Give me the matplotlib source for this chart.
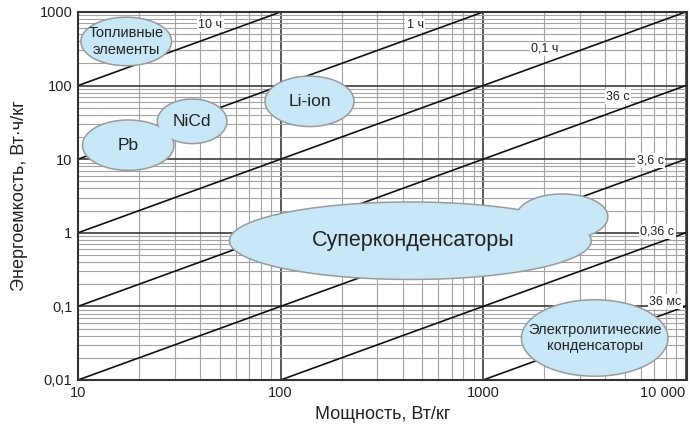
import numpy as np
import matplotlib
matplotlib.use("Agg")
import matplotlib.pyplot as plt
from matplotlib.ticker import FixedLocator, LogLocator, NullFormatter, FixedFormatter

plt.rcParams['font.family'] = ['Liberation Sans', 'DejaVu Sans']

# discharge-time lines: E = P * t (t in hours)
line_hours = [10, 1, 0.1, 0.01, 0.001, 0.0001, 0.00001]
line_labels = ["10 ч", "1 ч", "0,1 ч", "36 с", "3,6 с", "0,36 с", "36 мс"]
label_x = [45, 461, 2022, 4640, 6685, 7230, 7925]
label_y = [667, 667, 315, 70.3, 9.5, 1.03, 0.116]

# technology regions (center in W/kg, Wh/kg; half-sizes in decades)
region_names = ["Топливные\nэлементы", "Pb", "NiCd", "Li-ion", "", "", "Электролитические\nконденсаторы"]
region_cx = [17.3, 17.7, 36.6, 139, 437, 2455, 3556]
region_cy = [398, 15.5, 32.7, 61.1, 0.78, 1.65, 0.0372]
region_ax = [0.220, 0.222, 0.168, 0.216, 0.889, 0.222, 0.358]
region_by = [0.319, 0.332, 0.292, 0.332, 0.516, 0.30, 0.509]
region_fs = [10.5, 12.5, 12.5, 12.5, 15, 15, 10.5]
super_label = "Суперконденсаторы"
super_pos = (450, 0.78)

x_ticks = [10, 100, 1000, 10000]
x_ticklabels = ["10", "100", "1000", "10 000"]
y_ticks = [0.01, 0.1, 1, 10, 100, 1000]
y_ticklabels = ["0,01", "0,1", "1", "10", "100", "1000"]

fig = plt.figure(figsize=(6.91, 4.24), dpi=100)
ax = fig.add_axes([0.1129, 0.1038, 0.8813, 0.8679])
ax.set_xscale('log')
ax.set_yscale('log')
xmin, xmax = 10, 10150
ax.set_xlim(xmin, xmax)
ax.set_ylim(0.01, 1000)

ax.xaxis.set_major_locator(FixedLocator(x_ticks))
ax.xaxis.set_major_formatter(FixedFormatter(x_ticklabels))
ax.yaxis.set_major_locator(FixedLocator(y_ticks))
ax.yaxis.set_major_formatter(FixedFormatter(y_ticklabels))
ax.xaxis.set_minor_locator(LogLocator(base=10, subs=np.arange(2, 10), numticks=20))
ax.yaxis.set_minor_locator(LogLocator(base=10, subs=np.arange(2, 10), numticks=20))
ax.xaxis.set_minor_formatter(NullFormatter())
ax.yaxis.set_minor_formatter(NullFormatter())
ax.tick_params(which='both', length=0, labelsize=10.5, colors='#222222', pad=4)

ax.grid(which='minor', color='#a3a3a3', lw=0.8, zorder=0)
ax.grid(which='major', color='#3c3c3c', lw=1.2, zorder=0)
ax.set_axisbelow(True)
for s in ax.spines.values():
    s.set_color('#333333')
    s.set_linewidth(1.5)

# diagonal lines
P = np.array([xmin, xmax])
for h in line_hours:
    ax.plot(P, P * h, color='#111111', lw=1.2, zorder=2)
for lab, lx, ly in zip(line_labels, label_x, label_y):
    ax.text(lx, ly, lab, fontsize=9, ha='center', va='center', color='#222222', zorder=2.5,
            bbox=dict(facecolor='white', edgecolor='none', pad=1.0))

fill_c = '#c8e8f8'
edge_c = '#9a9a9a'
t = np.linspace(0, 2 * np.pi, 400)
polys = []
for cx, cy, a, b in zip(region_cx, region_cy, region_ax, region_by):
    xs = 10 ** (np.log10(cx) + a * np.cos(t))
    ys = 10 ** (np.log10(cy) + b * np.sin(t))
    polys.append((xs, ys))
# edges first (thick), then fills on top so overlapping blobs merge
for xs, ys in polys:
    ax.fill(xs, ys, facecolor='none', edgecolor=edge_c, lw=2.2, zorder=3)
for xs, ys in polys:
    ax.fill(xs, ys, facecolor=fill_c, edgecolor='none', lw=0, zorder=4)

for name, cx, cy, fs in zip(region_names, region_cx, region_cy, region_fs):
    if name:
        ax.text(cx, cy, name, fontsize=fs, ha='center', va='center', color='#222222',
                zorder=5, linespacing=1.25)
ax.text(super_pos[0], super_pos[1], super_label, fontsize=15.5, ha='center', va='center',
        color='#222222', zorder=5)

ax.set_xlabel("Мощность, Вт/кг", fontsize=13, color='#222222', labelpad=5)
ax.set_ylabel("Энергоемкость, Вт·ч/кг", fontsize=13, color='#222222', labelpad=8)

fig.canvas.draw()
xl = ax.get_xticklabels()
xl[-1].set_horizontalalignment('right')

fig.savefig("out.png", dpi=100)
